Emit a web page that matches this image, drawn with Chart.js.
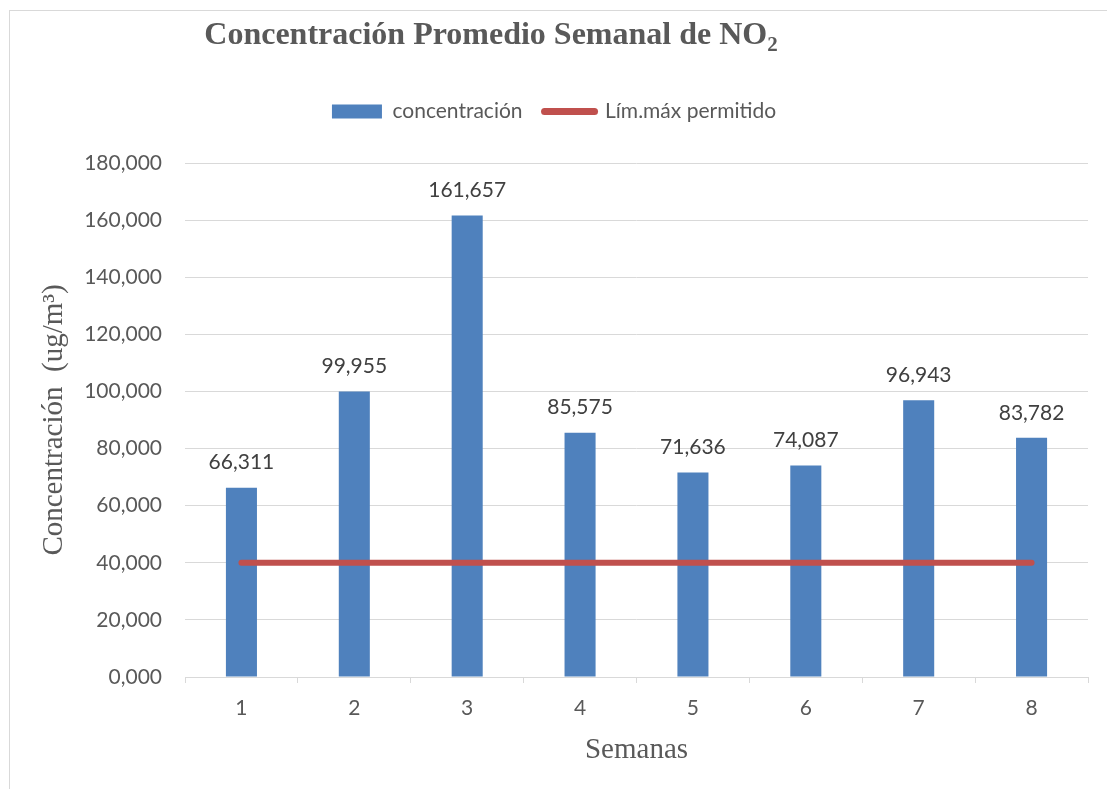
<!DOCTYPE html>
<html>
<head>
<meta charset="utf-8">
<title>Concentración Promedio Semanal de NO2</title>
<script src="https://cdn.jsdelivr.net/npm/chart.js@4.4.1/dist/chart.umd.min.js"></script>
<style>
  html, body { margin: 0; padding: 0; background: #fff; overflow: hidden; }
  #frame {
    position: absolute; left: 9px; top: 10px;
    width: 1200px; height: 900px;
    border: 1px solid #d9d9d9;
  }
  #chart { position: absolute; left: 0; top: 0; }
</style>
</head>
<body>
<div id="frame"></div>
<canvas id="chart" width="1107" height="789"></canvas>
<script>
// data
const weeks = ['1', '2', '3', '4', '5', '6', '7', '8'];
const concentration = [66.311, 99.955, 161.657, 85.575, 71.636, 74.087, 96.943, 83.782];
const maxAllowed = [40, 40, 40, 40, 40, 40, 40, 40];
const seriesNames = ['concentración', 'Lím.máx permitido'];
const yTicksMin = 0;
const yTicksMax = 180;
const yTicksStep = 20;

const blue = '#4f81bd';
const red = '#c0504d';
const gridGray = '#d9d9d9';
const textGray = '#595959';

function fmt(v) {
    return v.toFixed(3).replace('.', ',');
}

// title with subscript, drawn above the legend
const titlePlugin = {
    id: 'mainTitle',
    afterDraw(chart) {
        const ctx = chart.ctx;
        const main = 'Concentración Promedio Semanal de NO';
        const sub = '2';
        const bigFont = 'bold 32px "Liberation Serif", "Times New Roman", serif';
        const smallFont = 'bold 21px "Liberation Serif", "Times New Roman", serif';
        ctx.save();
        ctx.fillStyle = textGray;
        ctx.textBaseline = 'alphabetic';
        ctx.textAlign = 'left';
        ctx.font = bigFont;
        const wMain = ctx.measureText(main).width;
        ctx.font = smallFont;
        const wSub = ctx.measureText(sub).width;
        const x0 = 491 - (wMain + wSub) / 2;
        ctx.font = bigFont;
        ctx.fillText(main, x0, 44);
        ctx.font = smallFont;
        ctx.fillText(sub, x0 + wMain, 51);
        ctx.restore();
    }
};

// value labels above each bar
const valueLabels = {
    id: 'valueLabels',
    afterDatasetsDraw(chart) {
        const ctx = chart.ctx;
        const meta = chart.getDatasetMeta(0);
        ctx.save();
        ctx.font = '21px Lato, "Open Sans", sans-serif';
        ctx.fillStyle = '#404040';
        ctx.textAlign = 'center';
        ctx.textBaseline = 'middle';
        meta.data.forEach((bar, i) => {
            ctx.fillText(fmt(concentration[i]), bar.x, bar.y - 25);
        });
        ctx.restore();
    }
};

// extra room between legend and plot
const legendSpace = {
    id: 'legendSpace',
    beforeInit(chart) {
        const origFit = chart.legend.fit;
        chart.legend.fit = function() {
            origFit.bind(chart.legend)();
            this.height += 31;
        };
    }
};

const ctx = document.getElementById('chart').getContext('2d');
const chart = new Chart(ctx, {
    type: 'bar',
    data: {
        labels: weeks,
        datasets: [{
            type: 'bar',
            label: seriesNames[0],
            data: concentration,
            backgroundColor: blue,
            borderWidth: 0,
            barPercentage: 0.275,
            categoryPercentage: 1,
            order: 1
        }, {
            type: 'line',
            label: seriesNames[1],
            data: maxAllowed,
            borderColor: red,
            backgroundColor: red,
            borderWidth: 6,
            borderCapStyle: 'round',
            pointRadius: 0,
            fill: false,
            order: 0
        }]
    },
    options: {
        responsive: false,
        animation: false,
        devicePixelRatio: 1,
        layout: {
            padding: { top: 79, left: 20, right: 19, bottom: 21 }
        },
        plugins: {
            tooltip: { enabled: false },
            legend: {
                position: 'top',
                labels: {
                    usePointStyle: true,
                    pointStyleWidth: 50,
                    boxHeight: 14,
                    padding: 22,
                    color: textGray,
                    font: { family: 'Lato, "Open Sans", sans-serif', size: 21 },
                    generateLabels: () => [
                        { text: seriesNames[0], fillStyle: blue, strokeStyle: blue, lineWidth: 0,
                          pointStyle: 'rect', datasetIndex: 0, fontColor: textGray },
                        { text: seriesNames[1], fillStyle: red, strokeStyle: red, lineWidth: 7,
                          lineCap: 'round', pointStyle: 'line', datasetIndex: 1, fontColor: textGray }
                    ]
                }
            }
        },
        scales: {
            x: {
                offset: true,
                grid: {
                    offset: true,
                    drawOnChartArea: false,
                    drawTicks: true,
                    tickLength: 6,
                    color: gridGray
                },
                border: { display: true, color: gridGray, width: 1 },
                ticks: {
                    color: textGray,
                    padding: 13,
                    font: { family: 'Lato, "Open Sans", sans-serif', size: 21 }
                },
                title: {
                    display: true,
                    text: 'Semanas',
                    color: textGray,
                    padding: { top: -1, bottom: 0 },
                    font: { family: '"Liberation Serif", "Times New Roman", serif', size: 29 }
                }
            },
            y: {
                min: yTicksMin,
                max: yTicksMax,
                afterFit(scale) { scale.width = 165; },
                grid: { color: gridGray, drawTicks: false, lineWidth: 1 },
                border: { display: false },
                ticks: {
                    stepSize: yTicksStep,
                    color: textGray,
                    padding: 23,
                    font: { family: 'Lato, "Open Sans", sans-serif', size: 21 },
                    callback: (v) => fmt(v)
                },
                title: {
                    display: true,
                    text: 'Concentración  (ug/m³)',
                    color: textGray,
                    padding: { top: 17, bottom: 0 },
                    font: { family: '"Liberation Serif", "Times New Roman", serif', size: 29 }
                }
            }
        }
    },
    plugins: [legendSpace, valueLabels, titlePlugin]
});
</script>
</body>
</html>
